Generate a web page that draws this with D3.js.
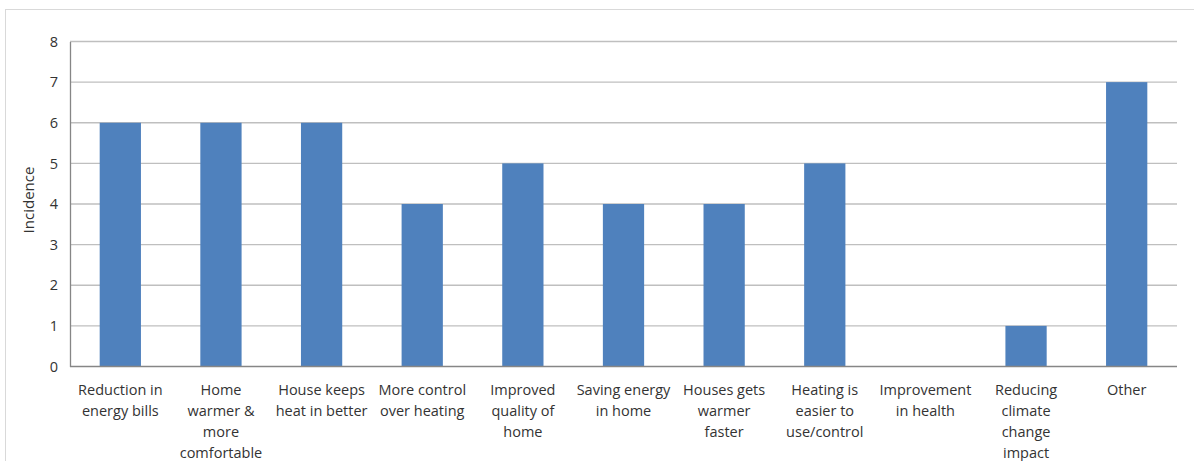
<!DOCTYPE html>
<html>
<head>
<meta charset="utf-8">
<script src="https://cdn.jsdelivr.net/npm/d3@7"></script>
<style>
  html, body { margin: 0; padding: 0; background: #fff; }
  svg { display: block; }
  text { font-family: "Open Sans", "Liberation Sans", sans-serif; fill: #333; }
</style>
</head>
<body>
<svg id="chart" width="1194" height="461"></svg>
<script>
const categories = [
  "Reduction in|energy bills",
  "Home|warmer &|more|comfortable",
  "House keeps|heat in better",
  "More control|over heating",
  "Improved|quality of|home",
  "Saving energy|in home",
  "Houses gets|warmer|faster",
  "Heating is|easier to|use/control",
  "Improvement|in health",
  "Reducing|climate|change|impact",
  "Other"
];
const incidence = [6, 6, 6, 4, 5, 4, 4, 5, 0, 1, 7];
const yTicks = [0, 1, 2, 3, 4, 5, 6, 7, 8];
const yTitle = "Incidence";

const svg = d3.select("#chart");
const margin = { left: 70, right: 1177, top: 41.5, bottom: 366.5 };

// chart frame
svg.append("rect")
  .attr("x", 5.5).attr("y", 9.5)
  .attr("width", 1300).attr("height", 600)
  .attr("fill", "none").attr("stroke", "#d9d9d9").attr("stroke-width", 1);

const x = d3.scaleBand()
  .domain(categories)
  .range([margin.left, margin.right])
  .paddingInner(0.59).paddingOuter(0.295);

const y = d3.scaleLinear().domain([0, 8]).range([margin.bottom, margin.top]);

// gridlines
svg.append("g")
  .selectAll("line")
  .data(yTicks.filter(d => d > 0))
  .join("line")
  .attr("x1", margin.left).attr("x2", margin.right)
  .attr("y1", d => y(d)).attr("y2", d => y(d))
  .attr("stroke", "#bfbfbf").attr("stroke-width", 1.3);

// bars
svg.append("g")
  .selectAll("rect")
  .data(incidence)
  .join("rect")
  .attr("x", (d, i) => x(categories[i]))
  .attr("width", x.bandwidth())
  .attr("y", d => y(d))
  .attr("height", d => y(0) - y(d))
  .attr("fill", "#4f81bd");

// y axis
const yAxis = svg.append("g")
  .attr("transform", `translate(${margin.left},0)`)
  .call(d3.axisLeft(y).tickValues(yTicks).tickSize(0).tickPadding(12));
yAxis.select(".domain").attr("stroke", "#868686").attr("stroke-width", 1.3);
yAxis.selectAll("text")
  .attr("font-size", 14.5)
  .style("font-family", "'Open Sans', sans-serif")
  .attr("fill", "#333");

// x axis baseline
svg.append("line")
  .attr("x1", margin.left).attr("x2", margin.right)
  .attr("y1", y(0)).attr("y2", y(0))
  .attr("stroke", "#868686").attr("stroke-width", 1.3);

// category labels (multi-line)
const labels = svg.append("g")
  .selectAll("text")
  .data(categories)
  .join("text")
  .attr("text-anchor", "middle")
  .attr("font-size", 14.5)
  .attr("transform", d => `translate(${x(d) + x.bandwidth() / 2},${y(0) + 28})`);
labels.selectAll("tspan")
  .data(d => d.split("|"))
  .join("tspan")
  .attr("x", 0)
  .attr("y", (d, i) => i * 21.3)
  .text(d => d);

// y axis title
svg.append("text")
  .attr("transform", `translate(34,${(margin.top + margin.bottom) / 2 - 4}) rotate(-90)`)
  .attr("text-anchor", "middle")
  .attr("font-size", 15)
  .text(yTitle);
</script>
</body>
</html>
